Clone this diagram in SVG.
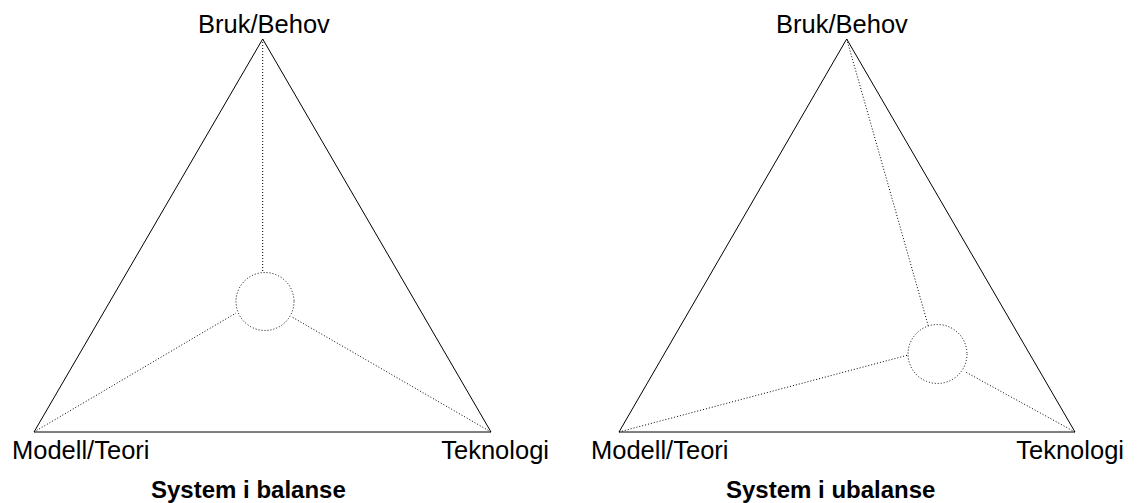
<svg xmlns="http://www.w3.org/2000/svg" width="1138" height="503" viewBox="0 0 1138 503">
  <style>
    .edge { fill: none; stroke: #000; stroke-width: 1; }
    .dot { fill: none; stroke: #000; stroke-width: 1; stroke-dasharray: 1 2; }
    .lbl { font-family: "Liberation Sans", Arial, sans-serif; font-size: 25.5px; fill: #000; }
    .ttl { font-family: "Liberation Sans", Arial, sans-serif; font-size: 24px; font-weight: bold; fill: #000; }
  </style>
  <rect width="1138" height="503" fill="#fff"/>

  <!-- Balanced system -->
  <g id="balanse">
    <polygon class="edge" points="262.7,39 34,432 491,432"/>
    <g id="balanse-links">
      <line class="dot" x1="262.7" y1="39" x2="262.7" y2="272"/>
      <line class="dot" x1="34" y1="432" x2="236" y2="313"/>
      <line class="dot" x1="491" y1="432" x2="292" y2="317"/>
    </g>
    <circle id="balanse-centre" class="dot" cx="265" cy="301.5" r="29"/>
    <text class="lbl" x="198" y="33">Bruk/Behov</text>
    <text class="lbl" x="12" y="459">Modell/Teori</text>
    <text class="lbl" x="549" y="459" text-anchor="end">Teknologi</text>
    <text class="ttl" x="151" y="498">System i balanse</text>
  </g>

  <!-- Unbalanced system -->
  <g id="ubalanse">
    <polygon class="edge" points="846.7,39 619,432 1075,432"/>
    <g id="ubalanse-links">
      <line class="dot" x1="846.7" y1="39" x2="928.3" y2="326"/>
      <line class="dot" x1="619" y1="432" x2="908.3" y2="355"/>
      <line class="dot" x1="1075" y1="432" x2="965" y2="371.7"/>
    </g>
    <circle id="ubalanse-centre" class="dot" cx="937.5" cy="354" r="29.5"/>
    <text class="lbl" x="776" y="33">Bruk/Behov</text>
    <text class="lbl" x="591" y="459">Modell/Teori</text>
    <text class="lbl" x="1124" y="459" text-anchor="end">Teknologi</text>
    <text class="ttl" x="726" y="498">System i ubalanse</text>
  </g>
</svg>
